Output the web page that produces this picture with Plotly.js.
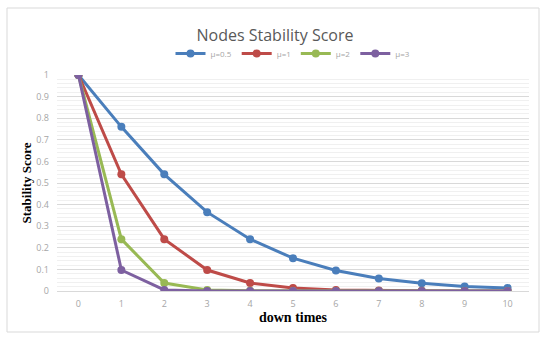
<!DOCTYPE html>
<html>
<head>
<meta charset="utf-8">
<script src="https://cdn.plot.ly/plotly-3.0.1.min.js"></script>
<style>html,body{margin:0;padding:0;background:#fff;}#chart{width:550px;height:343px;}</style>
</head>
<body>
<div id="chart"></div>
<script>
const downTimes = [0, 1, 2, 3, 4, 5, 6, 7, 8, 9, 10];
const seriesNames = ["μ=0.5", "μ=1", "μ=2", "μ=3"];
const mu05 = [1, 0.76, 0.54, 0.365, 0.24, 0.152, 0.095, 0.058, 0.036, 0.021, 0.014];
const mu1 = [1, 0.54, 0.24, 0.097, 0.037, 0.014, 0.005, 0.002, 0.001, 0.0005, 0.0002];
const mu2 = [1, 0.24, 0.037, 0.005, 0.001, 0.0002, 0, 0, 0, 0, 0];
const mu3 = [1, 0.097, 0.005, 0.0002, 0, 0, 0, 0, 0, 0, 0];
const yTicks = [0, 0.1, 0.2, 0.3, 0.4, 0.5, 0.6, 0.7, 0.8, 0.9, 1];
const yTickLabels = ["0", "0.1", "0.2", "0.3", "0.4", "0.5", "0.6", "0.7", "0.8", "0.9", "1"];

const colors = ["#4A7EBB", "#BE4B48", "#98B954", "#7D60A0"];
const series = [mu05, mu1, mu2, mu3];
const traces = series.map((ys, i) => ({
  x: downTimes, y: ys, name: seriesNames[i], type: "scatter", mode: "lines+markers",
  line: {color: colors[i], width: 3},
  marker: {color: colors[i], size: 8}
}));

const layout = {
  width: 550, height: 343,
  margin: {l: 57, r: 21, t: 75, b: 52},
  paper_bgcolor: "#fff", plot_bgcolor: "#fff",
  font: {family: "Open Sans, sans-serif", color: "#A6A6A6"},
  title: {text: "Nodes Stability Score", font: {size: 16, color: "#595959", family: "Open Sans, sans-serif"},
          x: 0.5, xanchor: "center", y: 1 - 35/343, yref: "container", yanchor: "middle"},
  showlegend: true,
  legend: {orientation: "h", x: 0.5, xanchor: "center", y: 1.10, yanchor: "middle",
           font: {size: 8, color: "#A6A6A6"}, itemwidth: 30, tracegroupgap: 0, bgcolor: "rgba(0,0,0,0)"},
  xaxis: {
    range: [-0.5, 10.5], tickmode: "array", tickvals: downTimes, ticktext: downTimes.map(String),
    showgrid: false, zeroline: false, showline: true, linecolor: "#D9D9D9", linewidth: 1,
    ticks: "", tickfont: {size: 9, color: "#A6A6A6"}, ticklabelstandoff: 4,
    title: {text: "down times", font: {family: "Liberation Serif, serif", size: 14, color: "#000", weight: "bold"}, standoff: 1},
    fixedrange: true
  },
  yaxis: {
    range: [0, 1.0], tickmode: "array", tickvals: yTicks, ticktext: yTickLabels,
    showgrid: true, gridcolor: "#D9D9D9", gridwidth: 1, zeroline: false, showline: false,
    ticks: "", tickfont: {size: 9, color: "#A6A6A6"}, ticklabelstandoff: 7,
    minor: {dtick: 0.02, showgrid: true, gridcolor: "#F0F0F0", gridwidth: 1},
    title: {text: "Stability Score", font: {family: "Liberation Serif, serif", size: 13, color: "#000", weight: "bold"}, standoff: 1},
    fixedrange: true
  },
  shapes: [{type: "rect", xref: "paper", yref: "paper",
            x0: (7-57)/472, x1: (539-57)/472, y0: (291-332)/216, y1: (291-8)/216,
            line: {color: "#D9D9D9", width: 1}, fillcolor: "rgba(0,0,0,0)", layer: "below"}]
};
Plotly.newPlot("chart", traces, layout, {displayModeBar: false, staticPlot: true});
</script>
</body>
</html>
